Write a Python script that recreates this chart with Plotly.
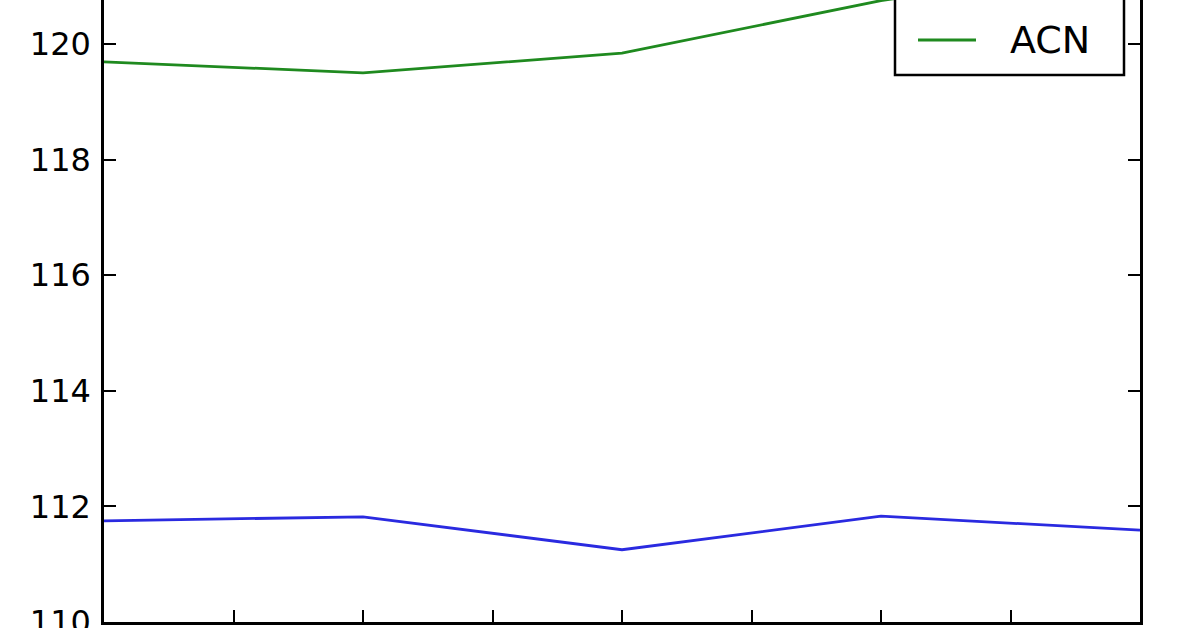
import plotly.graph_objects as go

# five observations, x ticks every half step
x_idx = [0, 1, 2, 3, 4]
acn = [119.69, 119.50, 119.84, 120.75, 121.40]
other = [111.75, 111.82, 111.25, 111.83, 111.59]
y_ticks = [110, 112, 114, 116, 118, 120]

W, H = 1196, 628
L, R, T, B = 104, 56, 0, 6
pw, ph = W - L - R, H - T - B


def px(x):
    return (x - L) / pw


def py(y):
    return (H - B - y) / ph


fig = go.Figure()
fig.add_trace(go.Scatter(x=x_idx, y=other, mode="lines", name="other",
                         line=dict(color="#2a2ae0", width=2.8), showlegend=False))
fig.add_trace(go.Scatter(x=x_idx, y=acn, mode="lines", name="ACN",
                         line=dict(color="#1f8a1f", width=2.8), showlegend=False))

# legend box, top part runs off the picture like in the original
fig.add_shape(type="rect", xref="paper", yref="paper",
              x0=px(895), x1=px(1124), y0=py(75), y1=py(-40),
              line=dict(color="black", width=2.5), fillcolor="white", layer="above")
fig.add_shape(type="line", xref="paper", yref="paper",
              x0=px(918), x1=px(976), y0=py(40), y1=py(40),
              line=dict(color="#1f8a1f", width=2.8), layer="above")
fig.add_annotation(text="ACN", xref="paper", yref="paper",
                   x=px(1008), y=py(40), xanchor="left", yanchor="middle",
                   showarrow=False, font=dict(size=38, color="black"))

# top frame sits above the visible area, so no mirror on x
fig.update_xaxes(range=[0, 4], tick0=0, dtick=0.5, showticklabels=False,
                 ticks="inside", ticklen=12, tickwidth=2, tickcolor="black",
                 showline=True, linecolor="black", linewidth=2.5, mirror=False,
                 showgrid=False, zeroline=False, automargin=False)
fig.update_yaxes(range=[110, 120.76], tickvals=y_ticks,
                 ticks="inside", ticklen=12, tickwidth=2, tickcolor="black",
                 ticklabelstandoff=4, ticklabeloverflow="allow",
                 showline=True, linecolor="black", linewidth=2.5, mirror="ticks",
                 showgrid=False, zeroline=False, automargin=False)

fig.update_layout(
    width=W, height=H,
    margin=dict(l=L, r=R, t=T, b=B, autoexpand=False),
    paper_bgcolor="white", plot_bgcolor="white",
    font=dict(family="DejaVu Sans", size=32, color="black"),
    showlegend=False,
)

# page has a default 8px body margin; drop it so the figure sits at 0,0
fig.write_html("out.html", config={"displayModeBar": False},
               post_script="document.body.style.margin='0px';")
